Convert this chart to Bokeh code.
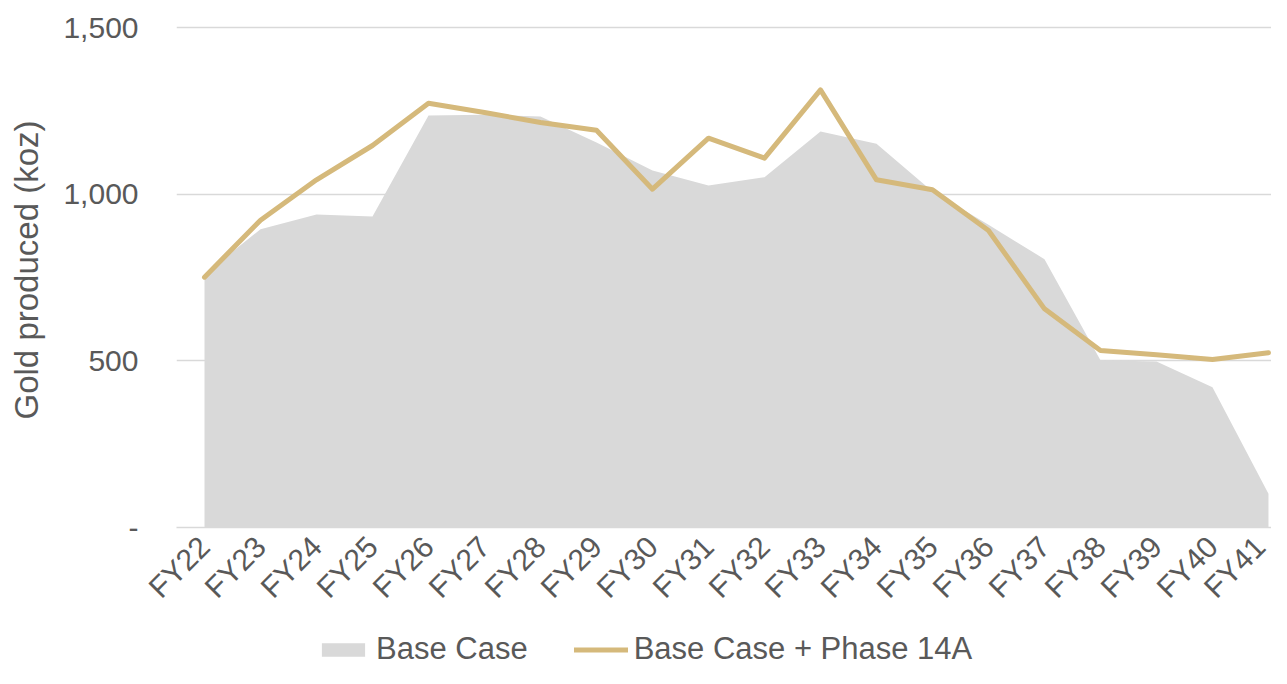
import math
from bokeh.plotting import figure
from bokeh.layouts import column
from bokeh.models import Range1d, FixedTicker, Legend, LegendItem, ColumnDataSource
from bokeh.embed import file_html
from bokeh.resources import INLINE

years = ["FY22", "FY23", "FY24", "FY25", "FY26", "FY27", "FY28", "FY29", "FY30", "FY31",
         "FY32", "FY33", "FY34", "FY35", "FY36", "FY37", "FY38", "FY39", "FY40", "FY41"]
base_case = [760, 895, 939, 933, 1236, 1238, 1233, 1155, 1071, 1026,
             1051, 1188, 1151, 1008, 908, 805, 502, 498, 421, 101]
phase_14a = [751, 922, 1043, 1146, 1273, 1245, 1215, 1192, 1015, 1168,
             1108, 1313, 1043, 1013, 891, 656, 531, 518, 504, 524]
y_ticks = [0, 500, 1000, 1500]
y_tick_labels = ["-", "500", "1,000", "1,500"]
series_names = ["Base Case", "Base Case + Phase 14A"]

TEXT = "#595959"
GRID = "#D9D9D9"
AREA = "#D9D9D9"
LINE = "#D5B97B"
FONT = "Liberation Sans"

xs = list(range(len(years)))
src = ColumnDataSource(dict(x=xs, base=base_case, phase=phase_14a, zero=[0] * len(xs)))

p = figure(width=1271, height=618, output_backend="svg", toolbar_location=None,
           x_range=Range1d(-0.5, 19.054), y_range=Range1d(0, 1545),
           min_border_left=176, min_border_right=0, min_border_top=12, min_border_bottom=91)
p.outline_line_color = None
p.background_fill_color = "white"
p.border_fill_color = "white"

p.varea(x="x", y1="zero", y2="base", source=src, fill_color=AREA)
p.line(x="x", y="phase", source=src, line_color=LINE, line_width=5,
       line_join="round", line_cap="round")

# x axis
xa = p.xaxis[0]
xa.ticker = FixedTicker(ticks=xs)
xa.major_label_overrides = {i: y for i, y in enumerate(years)}
xa.major_label_orientation = math.pi / 4
xa.major_tick_line_color = None
xa.minor_tick_line_color = None
xa.axis_line_color = GRID
xa.axis_line_width = 1.5
xa.major_label_text_font = FONT
xa.major_label_text_font_size = "30px"
xa.major_label_text_color = TEXT
xa.major_label_standoff = 8

# y axis
ya = p.yaxis[0]
ya.ticker = FixedTicker(ticks=y_ticks)
ya.major_label_overrides = {t: l for t, l in zip(y_ticks, y_tick_labels)}
ya.axis_line_color = None
ya.major_tick_line_color = None
ya.minor_tick_line_color = None
ya.major_tick_out = 0
ya.major_label_standoff = 38
ya.major_label_text_font = FONT
ya.major_label_text_font_size = "30px"
ya.major_label_text_color = TEXT
ya.axis_label = "Gold produced (koz)"
ya.axis_label_text_font = FONT
ya.axis_label_text_font_size = "33px"
ya.axis_label_text_font_style = "normal"
ya.axis_label_text_color = TEXT
ya.axis_label_standoff = 15

p.xgrid.grid_line_color = None
p.ygrid.ticker = FixedTicker(ticks=[500, 1000, 1500])
p.ygrid.grid_line_color = GRID
p.ygrid.grid_line_width = 1.5

# legend strip below the chart (its renderers sit outside the visible range)
lg = figure(width=1271, height=50, output_backend="svg", toolbar_location=None,
            x_range=Range1d(-0.5, 19.054), y_range=Range1d(-20, -10),
            min_border_left=176, min_border_right=0, min_border_top=0, min_border_bottom=0)
lg.outline_line_color = None
lg.axis.visible = False
lg.grid.visible = False
r_area = lg.varea(x="x", y1="zero", y2="base", source=src, fill_color=AREA)
r_line = lg.line(x="x", y="phase", source=src, line_color=LINE, line_width=5, line_cap="round")

legend = Legend(items=[LegendItem(label=series_names[0], renderers=[r_area]),
                       LegendItem(label=series_names[1], renderers=[r_line])],
                orientation="horizontal", location=(140, 1),
                glyph_width=54, glyph_height=17, label_standoff=6, spacing=46,
                padding=0, margin=0, border_line_color=None, background_fill_alpha=0,
                label_text_font=FONT, label_text_font_size="31px", label_text_color=TEXT,
                label_height=30)
lg.add_layout(legend, "center")

open("out.html", "w").write(file_html(column(p, lg, spacing=0), INLINE))
